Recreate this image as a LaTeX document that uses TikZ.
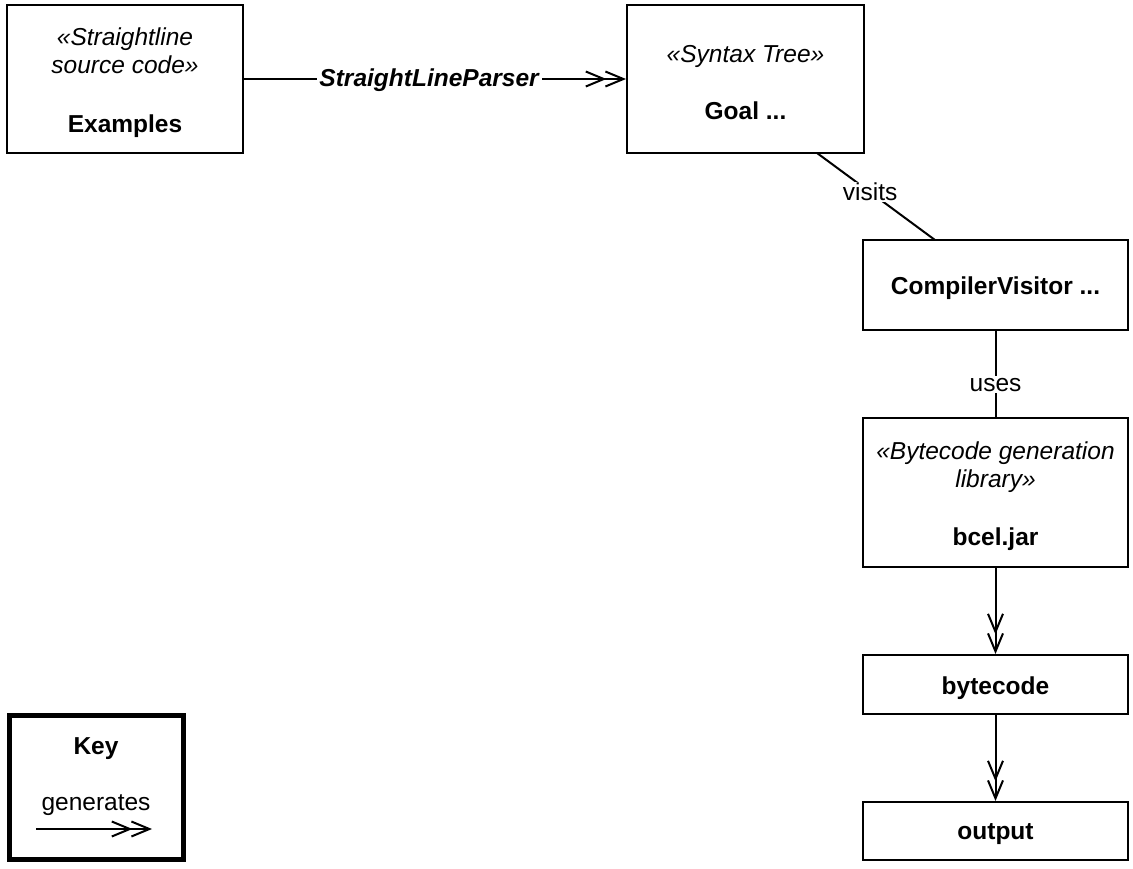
\documentclass[tikz,border=0pt]{standalone}
\usepackage{fontspec}
\setmainfont{Liberation Sans}
\usetikzlibrary{arrows.meta}
\tikzset{
  x=1pt, y=-1pt,
  box/.style={draw, line width=2pt, inner sep=0pt},
  txt/.style={align=center, inner sep=0pt, yshift=-3.5pt, font=\fontsize{24.5}{28}\selectfont},
  conn/.style={line width=2pt},
  gen/.style={line width=2pt, -{Straight Barb[length=18pt,width=15pt,line width=2pt,sep=-2pt]Straight Barb[length=18pt,width=15pt,line width=2pt]}},
  lbl/.style={fill=white, inner sep=2pt, font=\fontsize{24.5}{28}\selectfont}
}
\begin{document}
\begin{tikzpicture}
\useasboundingbox (0,0) rectangle (1133,868);
\node[box, minimum width=236pt, minimum height=148pt] (ex) at (125,79) {};
\node[txt] (ext) at (ex.center) {\textit{«Straightline}\\\textit{source code»}\\[31pt]\textbf{Examples}};
\node[box, minimum width=237pt, minimum height=148pt] (goal) at (745.5,79) {};
\node[txt] (goalt) at (goal.center) {\textit{«Syntax Tree»}\\[29pt]\textbf{Goal ...}};
\node[box, minimum width=265pt, minimum height=90pt] (cv) at (995.5,285) {};
\node[txt] (cvt) at (cv.center) {\textbf{CompilerVisitor ...}};
\node[box, minimum width=265pt, minimum height=149pt] (bcel) at (995.5,492.5) {};
\node[txt] (bcelt) at (bcel.center) {\textit{«Bytecode generation}\\\textit{library»}\\[30pt]\textbf{bcel.jar}};
\node[box, minimum width=265pt, minimum height=59pt] (bc) at (995.5,684.5) {};
\node[txt] (bct) at (bc.center) {\textbf{bytecode}};
\node[box, minimum width=265pt, minimum height=58pt] (out) at (995.5,831) {};
\node[txt] (outt) at (out.center) {\textbf{output}};
\node[draw, line width=5pt, minimum width=174pt, minimum height=144pt, inner sep=0pt] (key) at (96.5,787.5) {};

\draw[gen] (ex.east) -- node[lbl, pos=0.486, yshift=-1.5pt] {\textbf{\textit{StraightLineParser}}} (goal.west);
\coordinate (v1) at (817,153);
\coordinate (v2) at (935,240);
\draw[conn] (v1) -- node[lbl, inner sep=1pt, pos=0.45] {visits} (v2);
\draw[conn] (cv.south) -- node[lbl, pos=0.6, yshift=-2pt] {uses} (bcel.north);
\draw[gen] (bcel.south) -- (bc.north);
\draw[gen] (bc.south) -- (out.north);

\node[txt] (keyt) at (96,745) {\textbf{Key}};
\node[txt] (keyg) at (96,802) {generates};
\coordinate (ka) at (36,829);
\coordinate (kb) at (152,829);
\draw[gen] (ka) -- (kb);
\end{tikzpicture}
\end{document}
